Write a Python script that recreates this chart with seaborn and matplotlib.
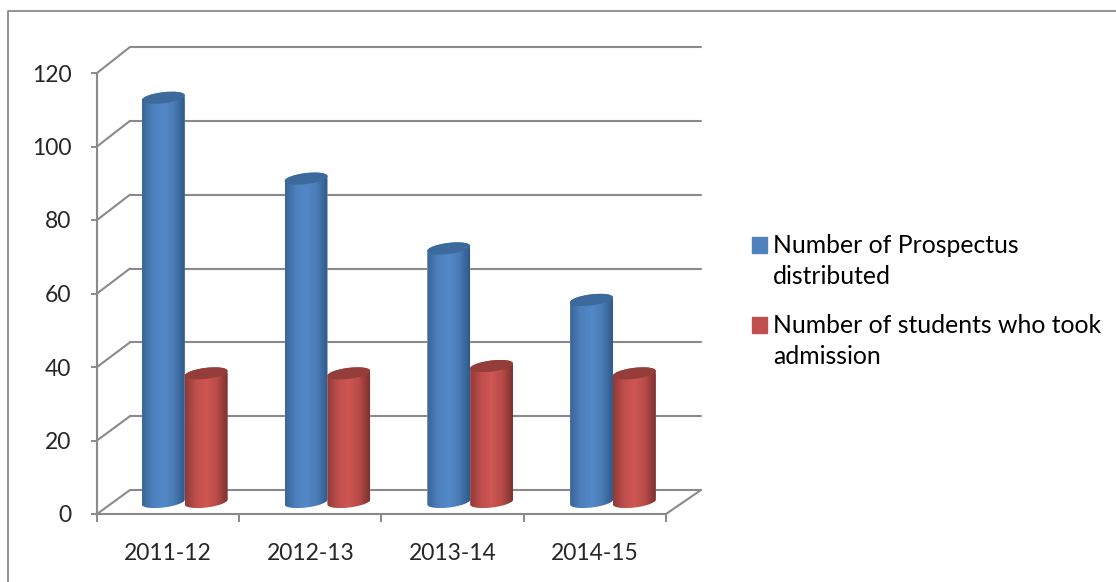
import numpy as np
import pandas as pd
import matplotlib
matplotlib.use("Agg")
import matplotlib.pyplot as plt
import matplotlib.patches as mpatches
from matplotlib.colors import LinearSegmentedColormap
from matplotlib.legend_handler import HandlerPatch
from matplotlib.lines import Line2D
from matplotlib.path import Path
from matplotlib.transforms import IdentityTransform
import seaborn as sns

YEARS = ['2011-12', '2012-13', '2013-14', '2014-15']
PROSPECTUS = [110, 88, 69, 55]
ADMISSIONS = [35, 35, 37, 35]
SERIES = ['Number of Prospectus\ndistributed', 'Number of students who took\nadmission']
Y_TICKS = [0, 20, 40, 60, 80, 100, 120]

W, H = 1116, 582
GREY = '#8a8a8a'
COLORS = ['#4f81bd', '#c0504d']
CAPS = ['#3d6a9c', '#953d3a']
SHADES = [
    ['#3a6699', '#4d80bd', '#5388c9', '#4a7cb6', '#30598a'],
    ['#8f3a38', '#bf4f4c', '#cf5653', '#b84b48', '#7e3230'],
]
TILT = np.deg2rad(7)
CAP_H = 5.5

sns.set_theme(style='white')
plt.rcParams['font.family'] = ['Lato', 'DejaVu Sans']
plt.rcParams['text.color'] = 'black'

df = pd.DataFrame({
    'year': YEARS * 2,
    'series': [SERIES[0]] * 4 + [SERIES[1]] * 4,
    'value': PROSPECTUS + ADMISSIONS,
})


def px_axes(fig, left, right, bottom, top):
    # axes placed by pixel edges, y measured from the top of the image
    ax = fig.add_axes([left / W, 1 - bottom / H, (right - left) / W, (bottom - top) / H])
    ax.set_facecolor('none')
    ax.set_xlim(-0.5, 3.5)
    ax.set_ylim(0, 120)
    return ax


def first_line_patch(legend, orig_handle, xdescent, ydescent, width, height, fontsize):
    # handle sits next to the first line of the two line label
    return mpatches.Rectangle((-xdescent, -ydescent + 12), width, height)


def cylinder(ax, bar, colors, cap, z):
    x0 = bar.get_x()
    x1 = x0 + bar.get_width()
    val = bar.get_height()
    (l, b0), (r, t0) = ax.transData.transform([(x0, 0), (x1, val)])
    cx = (l + r) / 2
    a = (r - l) / 2 / np.cos(TILT)
    u = np.array([np.cos(TILT), np.sin(TILT)])
    v = np.array([-np.sin(TILT), np.cos(TILT)])
    t = np.linspace(np.pi, 2 * np.pi, 40)
    low = np.array([cx, b0]) + np.outer(a * np.cos(t), u) + np.outer(CAP_H * np.sin(t), v)
    t = np.linspace(0, np.pi, 40)
    high = np.array([cx, t0]) + np.outer(a * np.cos(t), u) + np.outer(CAP_H * np.sin(t), v)
    outline = mpatches.PathPatch(Path(np.vstack([low, high, low[:1]])), transform=IdentityTransform())
    bar.set_clip_path(outline)

    cmap = LinearSegmentedColormap.from_list('shade', colors)
    img = ax.imshow(np.linspace(0, 1, 64)[None, :], cmap=cmap, aspect='auto',
                    extent=(x0, x1, -4, val + 4), origin='lower', zorder=z)
    img.set_clip_path(outline)
    img.set_clip_box(ax.figure.bbox)  # rounded foot hangs below the axes box
    ax.add_patch(mpatches.Ellipse((cx, t0), 2 * a, 2 * CAP_H, angle=np.rad2deg(TILT), facecolor=cap,
                                  edgecolor='none', transform=IdentityTransform(), zorder=z + 0.5))


fig = plt.figure(figsize=(W / 100, H / 100), dpi=100, facecolor='white')

# chart frame, only left and top show in the crop
fig.add_artist(Line2D([7.5 / W, 7.5 / W, 1], [0, 1 - 11 / H, 1 - 11 / H], color=GREY, lw=1.3))

# back wall gridlines
back = px_axes(fig, 130, 701, 490, 47)
back.set_yticks(Y_TICKS)
back.set_xticks([])
back.grid(axis='y', color=GREY, lw=1.5)
for gl in back.get_ygridlines():
    gl.set_clip_on(False)
back.tick_params(left=False, labelleft=False)
sns.despine(ax=back, left=True, bottom=True)

# front plane: axis lines, ticks and labels
front = px_axes(fig, 97, 666, 514, 73)
front.set_yticks(Y_TICKS)
front.set_xticks(np.arange(-0.5, 4))
front.set_xticklabels([])
front.set_xticks(range(len(YEARS)), labels=YEARS, minor=True)
front.tick_params(axis='x', which='major', bottom=True, length=5.8, width=1.4, color=GREY)
front.tick_params(axis='x', which='minor', bottom=False, length=0, pad=21, labelsize=16.5)
front.tick_params(axis='y', left=True, length=4.5, width=1.4, color=GREY, pad=14, labelsize=16.5)
sns.despine(ax=front)
for side in ['left', 'bottom']:
    front.spines[side].set_color(GREY)
    front.spines[side].set_linewidth(1.5)

# diagonals joining the front axis to the back wall
for val in Y_TICKS:
    fig.add_artist(mpatches.ConnectionPatch((-0.5, val), (-0.5, val), 'data', 'data',
                                            axesA=front, axesB=back, color=GREY, lw=1.5))
fig.add_artist(mpatches.ConnectionPatch((3.5, 0), (3.5, 0), 'data', 'data',
                                        axesA=front, axesB=back, color=GREY, lw=1.5))

# bars stand half way between front plane and back wall
ax = px_axes(fig, 113.3, 684.3, 502, 61)
sns.barplot(data=df, x='year', y='value', hue='series', hue_order=SERIES, palette=COLORS,
            width=0.6, gap=0, errorbar=None, legend=False, saturation=1, ax=ax)
ax.set_xlim(-0.5, 3.5)
ax.set_ylim(0, 120)
ax.axis('off')

for i, container in enumerate(ax.containers):
    for bar in container:
        cylinder(ax, bar, SHADES[i], CAPS[i], 3 + i)
ax.set_xlim(-0.5, 3.5)
ax.set_ylim(0, 120)

handles = [mpatches.Patch(color=c) for c in COLORS]
leg = fig.legend(handles, SERIES, loc='upper left', bbox_to_anchor=(752 / W, 1 - 234 / H),
                 frameon=False, fontsize=17.8, handlelength=0.61, handleheight=0.61,
                 handletextpad=0.23, labelspacing=1.07, borderpad=0, borderaxespad=0,
                 handler_map={mpatches.Patch: HandlerPatch(patch_func=first_line_patch)})
for txt in leg.get_texts():
    txt.set_linespacing(1.4)

fig.savefig('out.png', dpi=100)
